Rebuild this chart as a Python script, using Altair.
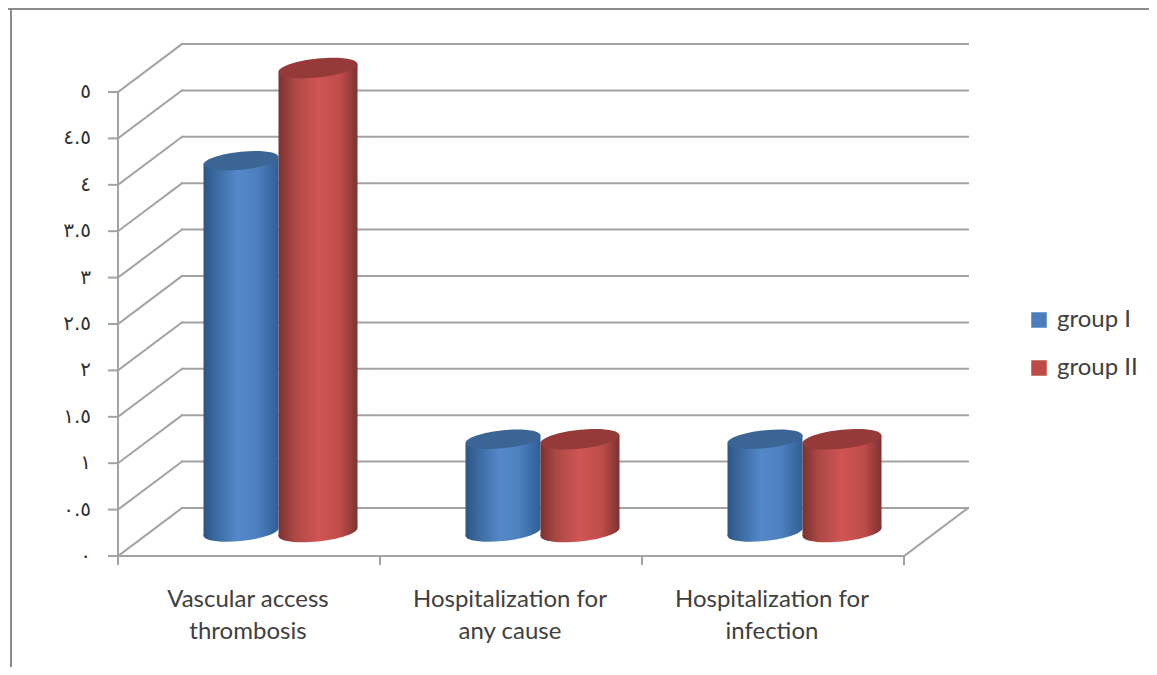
import altair as alt
import pandas as pd

categories = ["Vascular access\nthrombosis", "Hospitalization for\nany cause", "Hospitalization for\ninfection"]
groups = ["group I", "group II"]
group_i = [4, 1, 1]
group_ii = [5, 1, 1]
tick_values = [0, 0.5, 1, 1.5, 2, 2.5, 3, 3.5, 4, 4.5, 5]
tick_labels = ["٠", "٠.٥", "١", "١.٥", "٢", "٢.٥", "٣", "٣.٥", "٤", "٤.٥", "٥"]

W, H = 1141, 659
# pseudo-3D depth of the chart box, in data units
DX, DY = 64 / 262, 48 / 92.8
FLOOR = DY / 2
TILT = 4 / 92.8
GRID = "#a3a3a3"
FONT = "Lato"

xs = alt.Scale(domain=[0, 3 + DX], range=[110, 960])
ys = alt.Scale(domain=[0, 5 + DY], range=[548, 36])
X = lambda f: alt.X(f, type="quantitative", scale=xs, axis=None)
Y = lambda f: alt.Y(f, type="quantitative", scale=ys, axis=None)


def rules(rows, color=GRID, width=2):
    df = pd.DataFrame(rows, columns=["x", "x2", "y", "y2"])
    return alt.Chart(df).mark_rule(color=color, strokeWidth=width, strokeCap="square").encode(
        x=X("x"), x2="x2", y=Y("y"), y2="y2"
    )


wall = [(DX, 3 + DX, v + DY, v + DY) for v in tick_values]
oblique = [(0, DX, v, v + DY) for v in tick_values] + [(3, 3 + DX, 0, DY)]
axis_lines = [(0, 0, 0, 5), (0, 3, 0, 0)]
y_ticks = [(-9 / 262, 0, v, v) for v in tick_values]
x_ticks = [(i, i, 0, -8 / 92.8) for i in range(4)]


def ellipse_path(s=0.1, b=0.24, k=0.5523):
    return (
        f"M -1 {s:.4f} "
        f"C -1 {s - b * k:.4f} {-k:.4f} {-b + s * k:.4f} 0 {-b:.4f} "
        f"C {k:.4f} {-b - s * k:.4f} 1 {-s - b * k:.4f} 1 {-s:.4f} "
        f"C 1 {-s + b * k:.4f} {k:.4f} {b - s * k:.4f} 0 {b:.4f} "
        f"C {-k:.4f} {b + s * k:.4f} -1 {s + b * k:.4f} -1 {s:.4f} Z"
    )


SHAPE = ellipse_path()


def gradient(stops):
    return alt.LinearGradient(
        gradient="linear", x1=0, x2=1, y1=0, y2=0,
        stops=[alt.GradientStop(offset=o, color=c) for o, c in stops],
    )


def cylinders(values, center, half_px, stops, top_color):
    hw = half_px / 262
    grad = gradient(stops)
    size = (2 * half_px) ** 2
    caps = pd.DataFrame(
        {"x": [i + center for i in range(3)], "base": [FLOOR] * 3, "top": [FLOOR + v for v in values]}
    )
    body_rows = []
    for i, v in enumerate(values):
        c = i + center
        body_rows.append({"bar": i, "x": c - hw, "y": FLOOR + v - TILT, "y2": FLOOR - TILT})
        body_rows.append({"bar": i, "x": c + hw, "y": FLOOR + v + TILT, "y2": FLOOR + TILT})
    body = pd.DataFrame(body_rows)
    bottom = alt.Chart(caps).mark_point(
        shape=SHAPE, size=size, filled=True, fill=grad, opacity=1, strokeWidth=0
    ).encode(x=X("x"), y=Y("base"))
    side = alt.Chart(body).mark_area(fill=grad, opacity=1, strokeWidth=0).encode(
        x=X("x"), y=Y("y"), y2="y2", detail="bar:N"
    )
    top = alt.Chart(caps).mark_point(
        shape=SHAPE, size=size, filled=True, fill=top_color, opacity=1, strokeWidth=0
    ).encode(x=X("x"), y=Y("top"))
    return bottom + side + top


BLUE = [(0, "#2b5586"), (0.18, "#3c6ba3"), (0.45, "#5488c8"), (0.7, "#4e81c0"), (1, "#2f5f96")]
RED = [(0, "#7b3230"), (0.2, "#ac4845"), (0.5, "#d05553"), (0.78, "#bf4c4a"), (1, "#7b3331")]

blue = cylinders(group_i, 123 / 262, 37.5, BLUE, "#3a6595")
red = cylinders(group_ii, 200 / 262, 39.5, RED, "#953a38")

y_label_df = pd.DataFrame({"x": [-27 / 262] * len(tick_values), "y": tick_values, "t": tick_labels})
y_labels = alt.Chart(y_label_df).mark_text(
    align="right", baseline="middle", font="DejaVu Sans", fontSize=20, color="#303030"
).encode(x=X("x"), y=Y("y"), text="t:N")

cat_df = pd.DataFrame(
    {"x": [i + 0.496 for i in range(3)], "y": [-32 / 92.8] * 3, "t": categories}
)
cat_labels = alt.Chart(cat_df).mark_text(
    align="center", baseline="top", font=FONT, fontSize=24, color="#404040",
    lineBreak="\n", lineHeight=32,
).encode(x=X("x"), y=Y("y"), text="t:N")

legend_df = pd.DataFrame({"g": groups, "x": [0, 0], "y": [0, 0]})
legend_layer = alt.Chart(legend_df).mark_square(opacity=0).encode(
    x=X("x"), y=Y("y"),
    color=alt.Color(
        "g:N",
        scale=alt.Scale(domain=groups, range=["#4a7ebb", "#be4b48"]),
        legend=alt.Legend(
            title=None, orient="none", legendX=1019, legendY=300,
            symbolType="square", symbolSize=240, symbolOpacity=1, symbolStrokeWidth=0,
            labelFont=FONT, labelFontSize=24, labelColor="#404040", labelOffset=6,
            rowPadding=24, labelLimit=200,
        ),
    ),
)

frame = (
    alt.Chart(pd.DataFrame({"a": [0]})).mark_rule(color="#8c8c8c", strokeWidth=2).encode(
        x=alt.value(0), x2=alt.value(W), y=alt.value(1)
    )
    + alt.Chart(pd.DataFrame({"a": [0]})).mark_rule(color="#8c8c8c", strokeWidth=2).encode(
        x=alt.value(3), y=alt.value(0), y2=alt.value(H)
    )
)

chart = (
    alt.layer(
        frame,
        rules(wall),
        rules(oblique),
        rules(axis_lines),
        rules(y_ticks),
        rules(x_ticks),
        blue,
        red,
        y_labels,
        cat_labels,
        legend_layer,
    )
    .properties(width=W, height=H, padding=0, autosize=alt.AutoSizeParams(type="none"), background="white")
    .configure_view(strokeWidth=0)
)

chart.save("out.html", embed_options={"renderer": "svg", "actions": False})
